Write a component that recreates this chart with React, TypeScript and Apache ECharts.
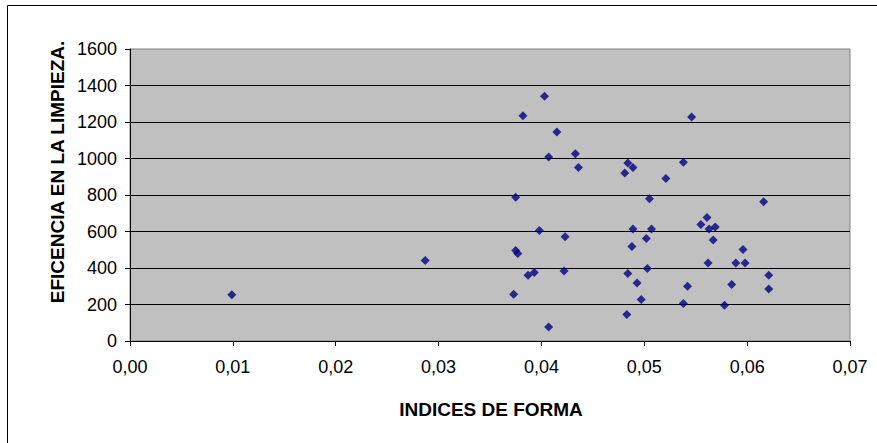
import { useEffect, useRef } from "react";
import * as echarts from "echarts";

// Shape index of each sample and the cleaning efficiency measured for it
const indicesForma = [
  0.0099, 0.0287, 0.0373, 0.0375, 0.0375, 0.0377, 0.0382, 0.0387, 0.0393, 0.0398,
  0.0403, 0.0407, 0.0407, 0.0415, 0.0422, 0.0423, 0.0433, 0.0436, 0.0481, 0.0483,
  0.0484, 0.0484, 0.0488, 0.0489, 0.0489, 0.0493, 0.0497, 0.0502, 0.0503, 0.0505,
  0.0507, 0.0521, 0.0538, 0.0538, 0.0542, 0.0546, 0.0555, 0.0561, 0.0562, 0.0563,
  0.0567, 0.0569, 0.0578, 0.0585, 0.0589, 0.0596, 0.0598, 0.0616, 0.0621, 0.0621,
];
const eficiencia = [
  254, 441, 256, 787, 496, 479, 1234, 360, 375, 606,
  1341, 1008, 77, 1145, 384, 571, 1026, 951, 921, 145,
  370, 976, 518, 614, 951, 318, 227, 561, 397, 779,
  614, 891, 980, 205, 300, 1227, 638, 677, 428, 614,
  554, 624, 196, 309, 428, 501, 428, 763, 360, 285,
];

// Axis ranges and steps
const xRange = [0, 0.07];
const xStep = 0.01;
const yRange = [0, 1600];
const yStep = 200;

const xTitle = "INDICES DE FORMA";
const yTitle = "EFICENCIA EN LA LIMPIEZA.";

const FONT = "'Liberation Sans', Arial, sans-serif";

export default function App() {
  const ref = useRef<HTMLDivElement>(null);

  useEffect(() => {
    if (!ref.current) return;
    const chart = echarts.init(ref.current, null, { renderer: "svg" });
    const points = indicesForma.map((x, i) => [x, eficiencia[i]]);

    chart.setOption({
      animation: false,
      backgroundColor: "#ffffff",
      textStyle: { fontFamily: FONT },
      grid: {
        left: 130,
        top: 49,
        right: 27,
        bottom: 102,
        show: true,
        backgroundColor: "#c0c0c0",
        borderColor: "#808080",
        borderWidth: 1,
      },
      xAxis: {
        type: "value",
        min: xRange[0],
        max: xRange[1],
        interval: xStep,
        axisLine: { show: true, onZero: false, lineStyle: { color: "#000", width: 1 } },
        axisTick: { show: true, length: 5, lineStyle: { color: "#000" } },
        splitLine: { show: false },
        axisLabel: {
          color: "#000",
          fontSize: 18,
          fontFamily: FONT,
          margin: 17,
          formatter: (v: number) => v.toFixed(2).replace(".", ","),
        },
      },
      yAxis: {
        type: "value",
        min: yRange[0],
        max: yRange[1],
        interval: yStep,
        axisLine: { show: true, lineStyle: { color: "#000", width: 1 } },
        axisTick: { show: true, length: 5, lineStyle: { color: "#000" } },
        splitLine: {
          show: true,
          showMaxLine: false,
          lineStyle: { color: "#000", width: 1 },
        },
        axisLabel: {
          color: "#000",
          fontSize: 18,
          fontFamily: FONT,
          margin: 13,
          formatter: (v: number) => String(v),
        },
      },
      graphic: [
        {
          type: "rect",
          shape: { x: 7.5, y: 5.5, width: 1000, height: 1000 },
          style: { fill: "none", stroke: "#000", lineWidth: 1 },
          silent: true,
        },
        {
          type: "text",
          x: 491,
          y: 409,
          style: {
            text: xTitle,
            fill: "#000",
            font: `bold 19px ${FONT}`,
            textAlign: "center",
            textVerticalAlign: "middle",
          },
        },
        {
          type: "text",
          x: 57,
          y: 172,
          rotation: Math.PI / 2,
          style: {
            text: yTitle,
            fill: "#000",
            font: `bold 19px ${FONT}`,
            textAlign: "center",
            textVerticalAlign: "middle",
          },
        },
      ],
      series: [
        {
          type: "scatter",
          data: points,
          symbol: "diamond",
          symbolSize: 9,
          itemStyle: { color: "#000080" },
        },
      ],
    });

    return () => chart.dispose();
  }, []);

  return (
    <div
      ref={ref}
      style={{ position: "fixed", left: 0, top: 0, width: 877, height: 443 }}
    />
  );
}
